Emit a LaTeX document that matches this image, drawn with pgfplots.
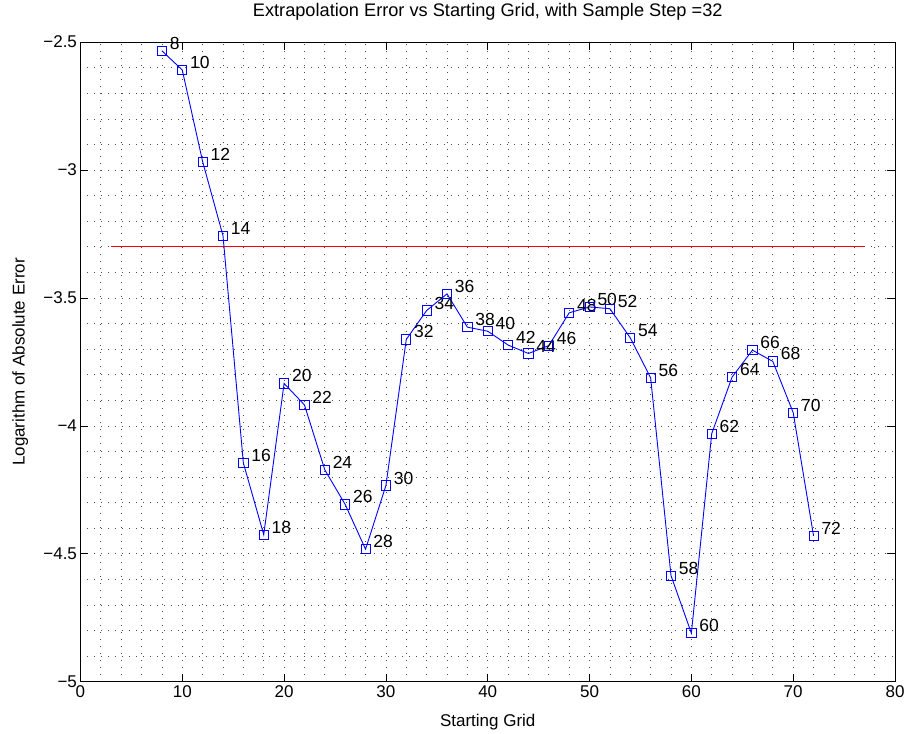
\documentclass[border=0pt]{standalone}
\usepackage{pgfplots}
\pgfplotsset{compat=1.18}
\usepackage{fontspec}
\setmainfont{Liberation Sans}
\begin{document}
\begin{tikzpicture}
\begin{axis}[
  name=ax,
  scale only axis,
  width=815pt, height=640pt,
  xmin=0, xmax=80, ymin=-5, ymax=-2.5,
  xtick={0,10,...,80},
  ytick={-5,-4.5,-4,-3.5,-3,-2.5},
  yticklabels={−5,−4.5,−4,−3.5,−3,−2.5},
  minor x tick num=4, minor y tick num=4,
  minor tick length=0pt,
  major tick length=8pt,
  tick align=inside,
  tick style={black, line width=0.8pt},
  axis line style={black, line width=0.8pt},
  grid=both,
  major grid style={black!70, line width=0.7pt, dash pattern=on 1pt off 6pt},
  minor grid style={black!70, line width=0.7pt, dash pattern=on 1pt off 6pt},
  /pgf/number format/assume math mode=true,
  ticklabel style={font=\fontsize{17}{20}\selectfont},
  title={Extrapolation Error vs Starting Grid, with Sample Step =32},
  title style={font=\fontsize{18.2}{21}\selectfont, at={(axis description cs:0.5,1.038)}, anchor=center},
  xlabel={Starting Grid},
  xlabel style={font=\fontsize{17}{20}\selectfont, at={(axis description cs:0.5,-0.0625)}, anchor=center},
  ylabel={Logarithm of Absolute Error},
  ylabel style={font=\fontsize{17}{20}\selectfont, at={(axis description cs:-0.074,0.5)}, anchor=center},
]
\addplot[red, line width=1.2pt] coordinates {(3,-3.3) (77,-3.3)};
\addplot[blue, line width=0.9pt, mark=square, mark size=4.6pt, mark options={solid, line width=0.9pt},
  nodes near coords, point meta=explicit symbolic,
  every node near coord/.append style={font=\fontsize{17.5}{20}\selectfont, black, anchor=west, inner sep=0pt, xshift=7.5pt, yshift=7.5pt}]
table[meta=lab] {
x y lab
8 -2.534 8
10 -2.609 10
12 -2.967 12
14 -3.257 14
16 -4.145 16
18 -4.425 18
20 -3.834 20
22 -3.918 22
24 -4.172 24
26 -4.307 26
28 -4.482 28
30 -4.233 30
32 -3.662 32
34 -3.549 34
36 -3.484 36
38 -3.614 38
40 -3.630 40
42 -3.684 42
44 -3.717 44
46 -3.686 46
48 -3.558 48
50 -3.535 50
52 -3.542 52
54 -3.656 54
56 -3.812 56
58 -4.585 58
60 -4.810 60
62 -4.030 62
64 -3.809 64
66 -3.704 66
68 -3.748 68
70 -3.948 70
72 -4.430 72
};
\end{axis}
\path ([xshift=-80.5pt,yshift=-52pt]ax.south west) rectangle ([xshift=14pt,yshift=37pt]ax.north east);
\end{tikzpicture}
\end{document}
